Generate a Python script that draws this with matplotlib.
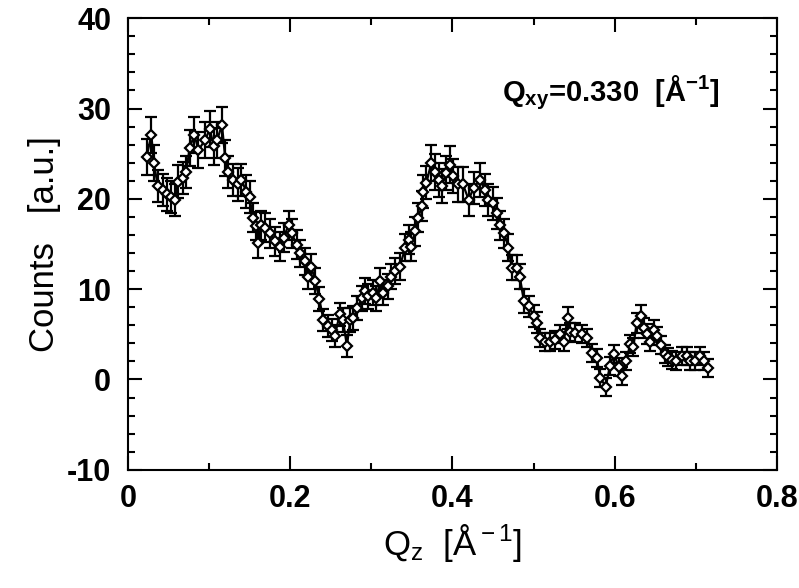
import numpy as np
import matplotlib
matplotlib.use("Agg")
import matplotlib.pyplot as plt
from matplotlib.ticker import MultipleLocator

plt.rcParams['font.family'] = ['Liberation Sans', 'DejaVu Sans']
plt.rcParams['mathtext.fontset'] = 'custom'
plt.rcParams['mathtext.rm'] = 'Liberation Sans'
plt.rcParams['mathtext.it'] = 'Liberation Sans'
plt.rcParams['mathtext.bf'] = 'Liberation Sans:bold'
plt.rcParams['axes.unicode_minus'] = False

# Qz [1/A] y cuentas
qz = [0.023, 0.029, 0.032, 0.037, 0.043, 0.048, 0.053, 0.058, 0.062, 0.068,
      0.072, 0.076, 0.082, 0.087, 0.095, 0.101, 0.106, 0.110, 0.116, 0.120,
      0.123, 0.129, 0.136, 0.140, 0.146, 0.150, 0.154, 0.158, 0.161, 0.164,
      0.169, 0.175, 0.181, 0.187, 0.192, 0.198, 0.202, 0.208, 0.212, 0.218,
      0.222, 0.226, 0.231, 0.236, 0.241, 0.247, 0.251, 0.255, 0.261, 0.265,
      0.270, 0.274, 0.278, 0.283, 0.288, 0.292, 0.296, 0.302, 0.306, 0.311,
      0.315, 0.320, 0.324, 0.329, 0.335, 0.342, 0.346, 0.349, 0.354, 0.358,
      0.362, 0.364, 0.368, 0.374, 0.379, 0.383, 0.387, 0.392, 0.397, 0.401,
      0.407, 0.413, 0.420, 0.426, 0.434, 0.440, 0.444, 0.450, 0.455, 0.459,
      0.464, 0.469, 0.473, 0.479, 0.483, 0.488, 0.494, 0.500, 0.504, 0.508,
      0.514, 0.520, 0.526, 0.533, 0.537, 0.542, 0.545, 0.551, 0.560, 0.566,
      0.572, 0.578, 0.582, 0.589, 0.594, 0.599, 0.605, 0.609, 0.614, 0.619,
      0.623, 0.627, 0.632, 0.636, 0.640, 0.644, 0.649, 0.652, 0.657, 0.662,
      0.666, 0.670, 0.676, 0.683, 0.689, 0.693, 0.699, 0.705, 0.710, 0.715]

cuentas = [24.6, 27.1, 24.0, 21.4, 21.0, 20.5, 20.2, 19.9, 21.9, 22.3,
           23.0, 25.6, 27.1, 25.4, 26.5, 27.7, 25.8, 26.5, 28.2, 24.5,
           23.0, 22.1, 21.6, 22.1, 20.8, 20.2, 17.9, 17.0, 15.1, 17.1,
           16.8, 16.2, 15.3, 14.7, 15.7, 17.1, 16.2, 14.9, 14.0, 13.1,
           11.4, 12.5, 10.9, 8.9, 6.6, 5.9, 5.5, 4.8, 7.2, 6.6,
           3.7, 6.6, 6.8, 7.9, 9.0, 9.8, 9.2, 9.6, 9.0, 10.9,
           9.6, 10.3, 11.4, 12.0, 12.5, 14.6, 15.5, 14.7, 16.4, 17.9,
           19.2, 20.8, 21.8, 24.0, 23.0, 22.1, 21.4, 22.9, 23.8, 22.5,
           21.6, 21.6, 19.9, 21.2, 22.1, 21.0, 19.9, 19.5, 18.4, 17.1,
           16.2, 14.6, 12.4, 12.4, 11.4, 8.7, 8.1, 7.0, 6.3, 4.6,
           4.2, 4.2, 4.4, 5.0, 4.2, 6.8, 5.3, 5.2, 5.0, 4.6,
           2.9, 2.4, 0.2, -0.8, 1.5, 2.8, 1.4, 0.4, 2.0, 3.9,
           3.6, 6.3, 7.0, 5.7, 5.0, 4.1, 5.5, 4.8, 3.8, 2.8,
           2.5, 2.2, 2.0, 2.6, 2.6, 2.0, 2.0, 2.6, 2.0, 1.3]

errores = [2.0, 2.0, 2.0, 1.8, 1.8, 1.8, 1.8, 1.8, 1.8, 1.8,
           1.8, 2.0, 2.0, 2.0, 2.0, 2.0, 2.0, 2.0, 2.0, 2.0,
           1.8, 1.8, 1.8, 1.8, 1.8, 1.8, 1.6, 1.6, 1.6, 1.6,
           1.6, 1.6, 1.6, 1.6, 1.6, 1.6, 1.6, 1.6, 1.5, 1.5,
           1.4, 1.4, 1.4, 1.3, 1.2, 1.2, 1.2, 1.2, 1.3, 1.3,
           1.2, 1.3, 1.3, 1.3, 1.4, 1.4, 1.4, 1.4, 1.4, 1.4,
           1.4, 1.4, 1.4, 1.4, 1.5, 1.5, 1.6, 1.6, 1.6, 1.6,
           1.7, 1.8, 1.8, 2.0, 2.0, 1.9, 1.9, 1.9, 2.0, 1.9,
           1.9, 1.9, 1.8, 1.8, 1.9, 1.8, 1.8, 1.8, 1.7, 1.6,
           1.6, 1.5, 1.4, 1.4, 1.4, 1.3, 1.2, 1.2, 1.2, 1.0,
           1.0, 1.0, 1.0, 1.0, 1.0, 1.2, 1.0, 1.0, 1.0, 1.0,
           1.0, 1.0, 1.0, 1.0, 1.0, 1.0, 1.0, 1.0, 1.0, 1.0,
           1.0, 1.1, 1.2, 1.1, 1.1, 1.0, 1.1, 1.0, 1.0, 1.0,
           1.0, 1.0, 1.0, 1.0, 1.0, 1.0, 1.0, 1.0, 1.0, 1.0]

fig = plt.figure(figsize=(7.99, 5.88), dpi=100)
ax = fig.add_axes([0.160, 0.201, 0.8125, 0.768])

ax.errorbar(qz, cuentas, yerr=errores, fmt='-D', color='black', ms=5.5,
            mfc='white', mec='black', mew=1.6, lw=1.6, elinewidth=1.6,
            capsize=4, capthick=1.6)

ax.set_xlim(0, 0.8)
ax.set_ylim(-10, 40)
ax.xaxis.set_major_locator(MultipleLocator(0.2))
ax.xaxis.set_minor_locator(MultipleLocator(0.1))
ax.yaxis.set_major_locator(MultipleLocator(10))
ax.yaxis.set_minor_locator(MultipleLocator(2))
ax.xaxis.set_major_formatter(plt.FuncFormatter(lambda v, p: '0' if v == 0 else f'{v:.1f}'))

ax.tick_params(which='both', direction='in', top=True, right=True, width=1.5)
ax.tick_params(which='major', length=10, labelsize=22)
ax.tick_params(axis='x', which='major', pad=10)
ax.tick_params(axis='y', which='major', pad=12)
ax.tick_params(which='minor', length=5)
for lab in ax.get_xticklabels() + ax.get_yticklabels():
    lab.set_fontweight('bold')
for s in ax.spines.values():
    s.set_linewidth(1.5)

ax.set_ylabel('Counts   [a.u.]', fontsize=25, labelpad=4)
ax.set_xlabel(r'Q$_{\rm z}$  [Å$^{\rm -1}$]', fontsize=25, labelpad=6)

ax.text(0.576, 0.836, r'Q$_{\mathbf{xy}}$=0.330  [Å$^{\mathbf{-1}}$]',
        transform=ax.transAxes, fontsize=21, fontweight='bold', va='center')

fig.savefig('out.png', dpi=100)
